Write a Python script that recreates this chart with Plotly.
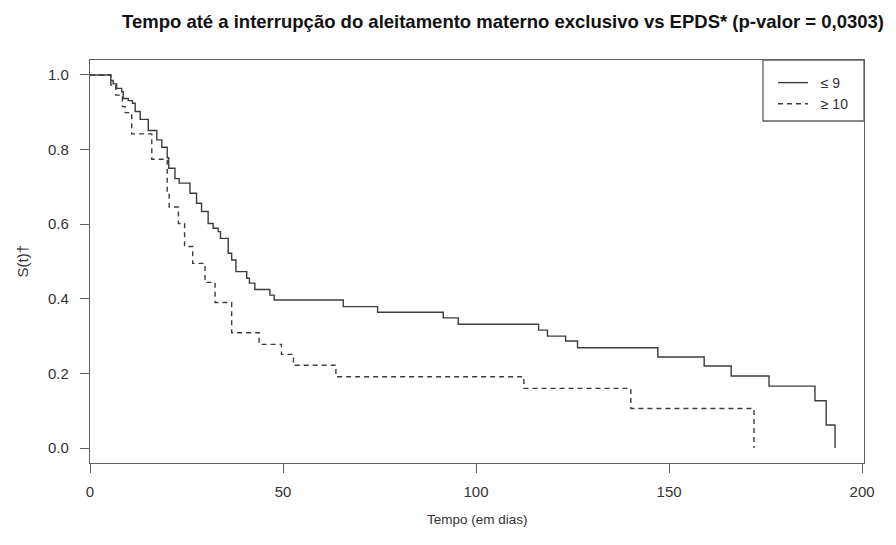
import plotly.graph_objects as go

# Kaplan-Meier estimates
epds_le9_time = [0, 5.4, 6.0, 6.9, 8.2, 8.6, 9.9, 11.0, 11.7, 13.0, 15.1, 17.3, 18.6, 20.0, 20.4,
                 22.0, 23.1, 25.9, 27.6, 28.9, 30.6, 31.9, 33.2, 33.8, 35.8, 36.7, 37.8, 40.6,
                 41.3, 42.7, 46.6, 47.7, 65.6, 74.5, 91.5, 95.4, 116.2, 118.5, 123.2, 126.3,
                 147.1, 159.1, 166.1, 175.9, 187.8, 190.7, 193.0]
epds_le9_surv = [1.0, 0.985, 0.976, 0.964, 0.955, 0.937, 0.931, 0.924, 0.902, 0.881, 0.851, 0.826,
                 0.806, 0.778, 0.750, 0.722, 0.710, 0.683, 0.656, 0.634, 0.602, 0.589, 0.580,
                 0.562, 0.522, 0.504, 0.473, 0.455, 0.442, 0.425, 0.410, 0.397, 0.379, 0.364,
                 0.349, 0.332, 0.316, 0.300, 0.287, 0.269, 0.244, 0.220, 0.193, 0.166, 0.127,
                 0.062, 0.0]

epds_ge10_time = [0, 5.4, 6.7, 8.4, 9.1, 10.8, 16.0, 20.0, 20.5, 22.9, 24.5, 26.6, 29.8, 32.4,
                  36.7, 43.8, 49.6, 52.7, 63.7, 112.4, 140.1, 172.0]
epds_ge10_surv = [1.0, 0.973, 0.946, 0.915, 0.899, 0.842, 0.774, 0.687, 0.646, 0.602, 0.540,
                  0.495, 0.444, 0.390, 0.309, 0.278, 0.251, 0.222, 0.191, 0.160, 0.106, 0.0]

series_names = ["≤ 9", "≥ 10"]
x_ticks = [0, 50, 100, 150, 200]
y_ticks = [0.0, 0.2, 0.4, 0.6, 0.8, 1.0]
y_tick_text = ["0.0", "0.2", "0.4", "0.6", "0.8", "1.0"]

FONT = "Liberation Sans, Arial, sans-serif"
LINE_COLOR = "#3c3c3c"
AXIS_COLOR = "#606060"
TEXT_COLOR = "#333333"

# the page body adds an 8px offset, so the figure is drawn 8px smaller
OFF = 8
W, H = 896 - OFF, 545 - OFF
L, T = 90 - OFF, 60 - OFF
R = W - (864 - OFF)
B = H - (463 - OFF)
pw, ph = W - L - R, H - T - B

fig = go.Figure()
fig.add_trace(go.Scatter(x=epds_le9_time, y=epds_le9_surv, mode="lines",
                         name="\u00a0\u00a0" + series_names[0],
                         line=dict(shape="hv", color=LINE_COLOR, width=1.4)))
fig.add_trace(go.Scatter(x=epds_ge10_time, y=epds_ge10_surv, mode="lines",
                         name="\u00a0\u00a0" + series_names[1],
                         line=dict(shape="hv", color=LINE_COLOR, width=1.4, dash="5px,4px")))

# legend frame
lx0 = (763 - 90) / pw
ly0 = 1 - (121 - 60) / ph
fig.add_shape(type="rect", xref="paper", yref="paper", x0=lx0, x1=1, y0=ly0, y1=1,
              line=dict(color=AXIS_COLOR, width=1.3), fillcolor="rgba(0,0,0,0)", layer="above")

axis_common = dict(showline=True, linecolor=AXIS_COLOR, linewidth=1.3, mirror=True,
                   ticks="outside", ticklen=9, tickcolor=AXIS_COLOR, tickwidth=1.3,
                   showgrid=False, zeroline=False,
                   tickfont=dict(family=FONT, size=15, color=TEXT_COLOR))

fig.update_layout(
    width=W, height=H,
    margin=dict(l=L, r=R, t=T, b=B, autoexpand=False),
    paper_bgcolor="white", plot_bgcolor="white",
    font=dict(family=FONT, size=13, color=TEXT_COLOR),
    title=dict(text="<b>Tempo até a interrupção do aleitamento materno exclusivo vs EPDS* (p-valor = 0,0303)</b>",
               x=(503 - OFF) / W, xanchor="center", xref="container",
               y=1 - (22 - OFF) / H, yanchor="middle", yref="container",
               font=dict(family=FONT, size=18.5, color="#111111")),
    xaxis=dict(range=[0, 200.5], tickvals=x_ticks, ticklabelstandoff=6, **axis_common),
    yaxis=dict(range=[-0.04, 1.04], tickvals=y_ticks, ticktext=y_tick_text,
               ticklabelstandoff=8, **axis_common),
    legend=dict(x=(773 - 90) / pw, xanchor="left", y=1 - (67 - 60) / ph, yanchor="top",
                bgcolor="rgba(0,0,0,0)", borderwidth=0, itemwidth=30,
                font=dict(family=FONT, size=14, color=TEXT_COLOR),
                tracegroupgap=0),
    showlegend=True,
    annotations=[
        dict(text="Tempo (em dias)", xref="paper", yref="paper", x=0.5, y=-(519 - 463) / ph,
             xanchor="center", yanchor="middle", showarrow=False,
             font=dict(family=FONT, size=13.5, color=TEXT_COLOR)),
        dict(text="S(t)†", xref="paper", yref="paper", x=-(90 - 22) / pw, y=0.5,
             xanchor="center", yanchor="middle", textangle=-90, showarrow=False,
             font=dict(family=FONT, size=15, color=TEXT_COLOR)),
    ],
)

fig.write_html("out.html")
